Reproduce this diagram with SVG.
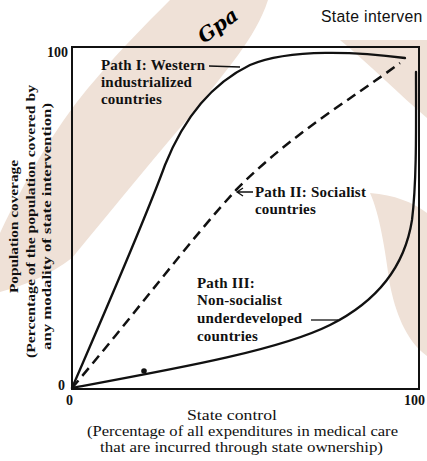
<svg xmlns="http://www.w3.org/2000/svg" width="427" height="461" viewBox="0 0 427 461">
<style>
.lbl{font-family:"Liberation Serif","Times New Roman",serif;font-size:15px;font-weight:bold;letter-spacing:0.2px;fill:#111}
.ax{font-family:"Liberation Serif","Times New Roman",serif;font-size:15px;fill:#111}
.yax{font-family:"Liberation Serif","Times New Roman",serif;font-size:13.5px;font-weight:bold;fill:#111}
.num{font-family:"Liberation Serif","Times New Roman",serif;font-size:14px;font-weight:bold;fill:#111}
.curve{fill:none;stroke:#111;stroke-width:2.3;stroke-linecap:round}
.dash{fill:none;stroke:#111;stroke-width:2.5;stroke-dasharray:10 6}
.lead{fill:none;stroke:#111;stroke-width:1.3}
.wm{fill:#efe1d7}
</style>
<rect width="427" height="461" fill="#ffffff"/>
<g id="watermark">
<path class="wm" d="M0,233 C30,170 60,120 95,80 C120,50 145,25 170,0 L268,0 C255,40 225,70 200,105 C160,150 120,200 72,258 C50,275 25,285 0,292 Z"/>
<path class="wm" d="M340,40 L427,40 L427,118 C400,95 370,65 340,40 Z"/>
<path class="wm" d="M370,193 C395,195 412,202 427,213 L427,356 C405,340 395,310 390,285 C385,250 380,215 370,193 Z"/>
</g>
<g id="title">
<text x="321" y="22" style="font-family:'Liberation Sans',Arial,sans-serif;font-size:15.8px;letter-spacing:0.3px;fill:#111">State interven</text>
<text x="0" y="0" transform="translate(204,44) rotate(-36)" style="font-family:'DejaVu Serif',serif;font-style:italic;font-weight:bold;font-size:20px;fill:#000">Gpa</text>
</g>
<g id="frame">
<rect x="72" y="47" width="347" height="342" fill="none" stroke="#111" stroke-width="2"/>
</g>
<g id="connectors">
<path id="path1" class="curve" d="M72,388 C110,300 145,220 165,165 C185,115 215,82 250,65 C290,48 360,52 405,58"/>
<path id="path2" class="dash" d="M72,388 C130,320 190,240 236,190 C290,135 350,100 400,63"/>
<path id="path3" class="curve" d="M72,388 C180,368 280,350 330,325 C380,300 405,265 412,220 C417,180 416,120 416,72"/>
<line class="lead" x1="209" y1="66" x2="240" y2="67"/>
<path class="lead" d="M253,192 L238,192 M243,188 L237,192 L243,196"/>
<line class="lead" x1="311" y1="320" x2="338" y2="320"/>
<circle cx="144" cy="371" r="2.8" fill="#111"/>
</g>
<g id="label-path1">
<text class="lbl" x="101" y="70">Path I: Western</text>
<text class="lbl" x="101" y="87">industrialized</text>
<text class="lbl" x="101" y="104">countries</text>
</g>
<g id="label-path2">
<text class="lbl" x="255" y="197">Path II: Socialist</text>
<text class="lbl" x="255" y="214">countries</text>
</g>
<g id="label-path3">
<text class="lbl" x="197" y="288">Path III:</text>
<text class="lbl" x="197" y="305">Non-socialist</text>
<text class="lbl" x="197" y="323">underdeveloped</text>
<text class="lbl" x="197" y="341">countries</text>
</g>
<g id="ticks">
<text class="num" x="47" y="57">100</text>
<text class="num" x="58" y="390">0</text>
<text class="num" x="66" y="405">0</text>
<text class="num" x="404" y="405">100</text>
</g>
<g id="x-axis-title">
<text class="ax" x="187" y="420" textLength="90" lengthAdjust="spacingAndGlyphs">State control</text>
<text class="ax" x="87" y="436" textLength="311" lengthAdjust="spacingAndGlyphs">(Percentage of all expenditures in medical care</text>
<text class="ax" x="100" y="452" textLength="283" lengthAdjust="spacingAndGlyphs">that are incurred through state ownership)</text>
</g>
<g id="y-axis-title">
<text class="yax" transform="translate(18,293) rotate(-90)" textLength="133" lengthAdjust="spacingAndGlyphs">Population coverage</text>
<text class="yax" transform="translate(35,358) rotate(-90)" textLength="273" lengthAdjust="spacingAndGlyphs">(Percentage of the population covered by</text>
<text class="yax" transform="translate(51,350) rotate(-90)" textLength="247" lengthAdjust="spacingAndGlyphs">any modality of state intervention)</text>
</g>
</svg>
